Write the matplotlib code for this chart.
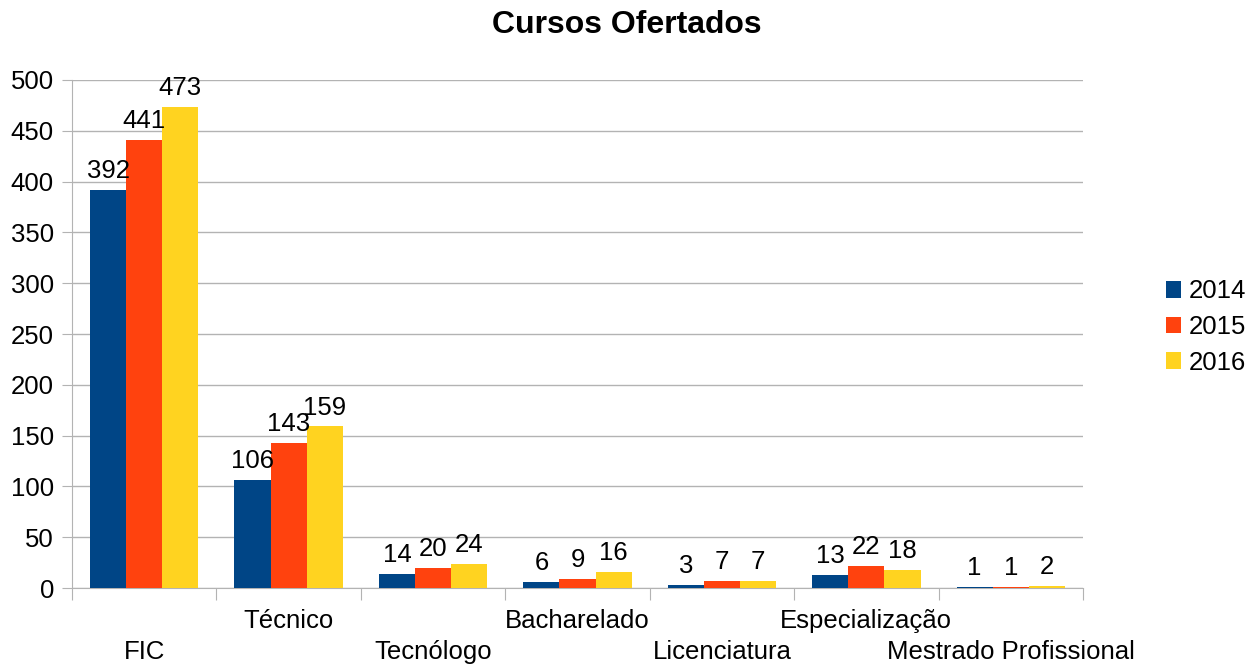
import matplotlib.pyplot as plt
import numpy as np

plt.rcParams['font.family'] = ['Liberation Sans', 'DejaVu Sans']

categories = ['FIC', 'Técnico', 'Tecnólogo', 'Bacharelado', 'Licenciatura',
              'Especialização', 'Mestrado Profissional']
years = ['2014', '2015', '2016']
v2014 = [392, 106, 14, 6, 3, 13, 1]
v2015 = [441, 143, 20, 9, 7, 22, 1]
v2016 = [473, 159, 24, 16, 7, 18, 2]
colors = ['#004586', '#ff420e', '#ffd320']

fig = plt.figure(figsize=(12.54, 6.68), dpi=100)
ax = fig.add_axes([72/1254, 1-588/668, (1083-72)/1254, (588-80)/668])

x = np.arange(len(categories))
width = 0.25
grey = '#b3b3b3'
fs = 18.5

for k, vals in enumerate([v2014, v2015, v2016]):
    bars = ax.bar(x + (k-1)*width, vals, width, color=colors[k], label=years[k], zorder=3)
    for rect in bars:
        h = rect.get_height()
        ax.annotate('{}'.format(h), xy=(rect.get_x() + rect.get_width()/2, h),
                    xytext=(0, 5), textcoords='offset points',
                    ha='center', va='bottom', fontsize=fs, zorder=4)

ax.set_xlim(-0.5, len(categories)-0.5)
ax.set_ylim(0, 500)
ax.set_yticks(np.arange(0, 501, 50))
ax.yaxis.grid(True, color=grey, linewidth=1, zorder=0)
ax.tick_params(axis='y', length=7, color=grey, labelsize=fs, pad=6)

ax.set_xticks(np.arange(-0.5, len(categories), 1))
ax.set_xticklabels([])
ax.tick_params(axis='x', length=8.5, color=grey)

for i, c in enumerate(categories):
    off = -46 if i % 2 == 0 else -24
    ax.annotate(c, xy=(i, 0), xycoords=('data', 'axes fraction'),
                xytext=(0, off), textcoords='offset points',
                ha='center', va='center', fontsize=fs)

for s in ['top', 'right']:
    ax.spines[s].set_visible(False)
for s in ['left', 'bottom']:
    ax.spines[s].set_color(grey)

fig.text(0.5, 1-25/668, 'Cursos Ofertados', ha='center', va='center',
         fontsize=23, fontweight='bold')

fig.legend(loc='center left', bbox_to_anchor=(1166/1254, 1-327/668), frameon=False,
           fontsize=fs, handlelength=0.6, handleheight=0.6, handletextpad=0.3,
           labelspacing=0.45, borderaxespad=0, borderpad=0)

fig.savefig('out.png', dpi=100)
